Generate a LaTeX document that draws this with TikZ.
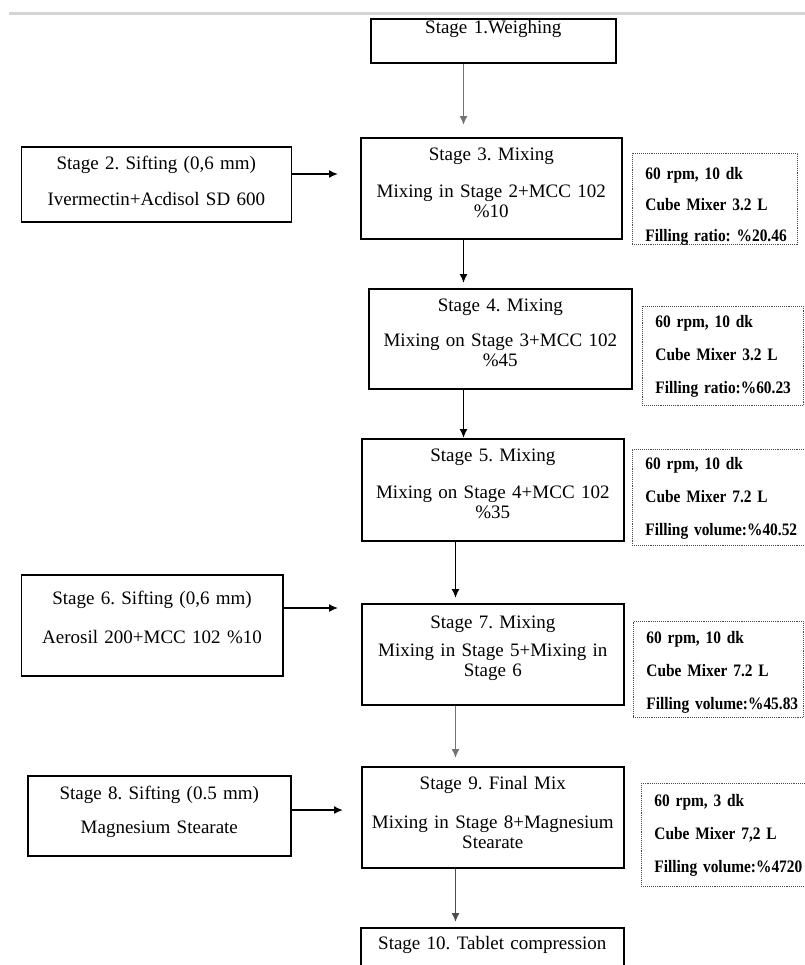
\documentclass[tikz,border=0pt]{standalone}
\usepackage{fontspec}
\setmainfont{Liberation Serif}
\newfontfamily\notefont[FakeStretch=0.88,WordSpace=0.6]{Liberation Serif}
\usetikzlibrary{arrows.meta}
\definecolor{rulegray}{RGB}{210,211,216}
\begin{document}
\frenchspacing
\begin{tikzpicture}[x=1bp,y=-1bp,
        stagebox/.style 2 args={draw,line width=1.6bp,anchor=north west,align=center,inner xsep=0bp,inner ysep=4bp,
            font=\fontsize{19bp}{20bp}\selectfont,text height=19bp,text width=#1,text depth=#2},
        notebox/.style 2 args={draw=black!70,densely dotted,line width=0.9bp,anchor=north west,align=left,inner xsep=13bp,inner ysep=5bp,
            font=\notefont\bfseries\fontsize{17.5bp}{33bp}\selectfont,text height=21bp,text width=#1,text depth=#2},
        flow/.style={-{Latex[length=9bp,width=8bp]},line width=1.6bp}]
        \useasboundingbox (0,0) rectangle (805,965);
        \fill[rulegray] (9,12) rectangle (805,15);
        \coordinate (colA) at (463.5,0);
        \coordinate (colB) at (455.5,0);
        \coordinate (rowA) at (0,174);
        \coordinate (rowB) at (0,608);
        \coordinate (rowC) at (0,810);
        \node[stagebox={245bp}{25bp},text height=11bp] (st1) at (370,18) {Stage 1.Weighing};
        \node[stagebox={270bp}{48bp}] (st2) at (20.5,146) {Stage 2. Sifting (0,6 mm)\\[16bp]Ivermectin+Acdisol SD 600};
        \node[stagebox={261bp}{74bp}] (st3) at (360,137) {Stage 3. Mixing\\[17bp]Mixing in Stage 2+MCC 102\\\%10};
        \node[stagebox={263bp}{73bp}] (st4) at (368,288) {Stage 4. Mixing\\[15bp]Mixing on Stage 3+MCC 102\\\%45};
        \node[stagebox={262bp}{75bp}] (st5) at (361,438) {Stage 5. Mixing\\[17bp]Mixing on Stage 4+MCC 102\\\%35};
        \node[stagebox={261.5bp}{67bp},text height=26bp] (st6) at (20.5,574) {Stage 6. Sifting (0,6 mm)\\[19bp]Aerosil 200+MCC 102 \%10};
        \node[stagebox={262bp}{72bp},text height=21bp] (st7) at (361,603) {Stage 7. Mixing\\[8bp]Mixing in Stage 5+Mixing in\\Stage 6};
        \node[stagebox={263bp}{52bp},text height=20bp] (st8) at (27,775) {Stage 8. Sifting (0.5 mm)\\[14bp]Magnesium Stearate};
        \node[stagebox={262bp}{74bp}] (st9) at (361,766) {Stage 9. Final Mix\\[19bp]Mixing in Stage 8+Magnesium\\Stearate};
        \node[stagebox={263bp}{34bp},text height=18bp] (st10) at (360,927) {Stage 10. Tablet compression};
        \node[notebox={139bp}{60bp}] (n3) at (632,153) {60 rpm, 10 dk\\[-2bp]Cube Mixer 3.2 L\\[-2bp]\mbox{Filling ratio: \%20.46}};
        \node[notebox={135bp}{73bp},text height=16bp] (n4) at (642,306) {60 rpm, 10 dk\\Cube Mixer 3.2 L\\\mbox{Filling ratio:\%60.23}};
        \node[notebox={154bp}{71bp},text height=15bp] (n5) at (632,449) {60 rpm, 10 dk\\Cube Mixer 7.2 L\\\mbox{Filling volume:\%40.52}};
        \node[notebox={144bp}{69bp},text height=17bp] (n7) at (633,621) {60 rpm, 10 dk\\Cube Mixer 7.2 L\\\mbox{Filling volume:\%45.83}};
        \node[notebox={154bp}{75bp},text height=18bp] (n9) at (641,783) {60 rpm, 3 dk\\Cube Mixer 7,2 L\\\mbox{Filling volume:\%4720}};
        \draw[flow,black!55,shorten >=12bp] (st1.south -| colA) -- (st3.north -| colA);
        \draw[flow,shorten >=5bp] (st3.south -| colA) -- (st4.north -| colA);
        \draw[flow] (st4.south -| colA) -- (st5.north -| colA);
        \draw[flow,shorten >=5bp] (st5.south -| colB) -- (st7.north -| colB);
        \draw[flow,black!55,shorten >=8bp] (st7.south -| colB) -- (st9.north -| colB);
        \draw[flow,black!70,shorten >=5bp] (st9.south -| colB) -- (st10.north -| colB);
        \draw[flow,shorten >=22bp] (st2.east |- rowA) -- (st3.west |- rowA);
        \draw[flow,shorten >=23bp] (st6.east |- rowB) -- (st7.west |- rowB);
        \draw[flow,shorten >=18bp] (st8.east |- rowC) -- (st9.west |- rowC);
    \end{tikzpicture}
\end{document}
